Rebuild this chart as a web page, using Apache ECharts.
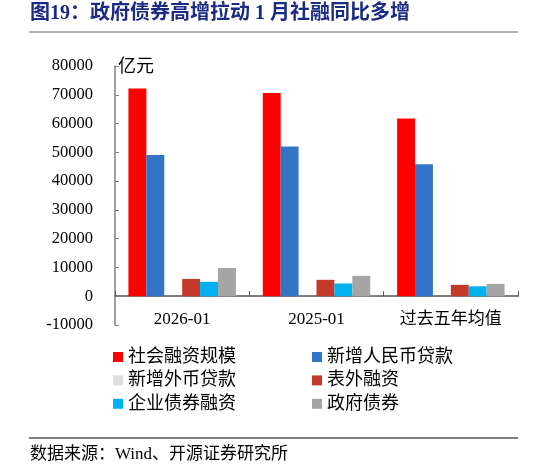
<!DOCTYPE html>
<html>
<head>
<meta charset="utf-8">
<script src="https://cdn.jsdelivr.net/npm/echarts@6/dist/echarts.min.js"></script>
<style>html,body{margin:0;padding:0;background:#fff;}#c{width:546px;height:468px;}</style>
</head>
<body>
<div id="c"></div>
<script>
const categories = ['2026-01', '2025-01', '过去五年均值'];
const seriesNames = ['社会融资规模', '新增人民币贷款', '新增外币贷款', '表外融资', '企业债券融资', '政府债券'];
const tsf = [72200, 70600, 61800];
const rmbLoans = [49100, 52000, 45900];
const fxLoans = [0, 0, 0];
const offBalance = [6000, 5700, 3950];
const corpBonds = [5000, 4400, 3450];
const govBonds = [9800, 7100, 4300];
const yTicks = { min: -10000, max: 80000, interval: 10000 };
const colors = ['#FF0000', '#3274C6', '#DDDDDD', '#C5392B', '#00B0F0', '#A5A5A5'];

const chart = echarts.init(document.getElementById('c'));
const values = [tsf, rmbLoans, fxLoans, offBalance, corpBonds, govBonds];
const serif = 'Liberation Serif, Noto Sans CJK SC';
const cjk = 'Liberation Serif, Noto Sans CJK SC';

chart.setOption({
  animation: false,
  color: colors,
  grid: { left: 115, right: 28, top: 66, bottom: 143, containLabel: false },
  xAxis: {
    type: 'category',
    data: categories,
    axisLine: { onZero: true, lineStyle: { color: '#555', width: 1.5 } },
    axisTick: { show: true, inside: true, length: 5, alignWithLabel: false, lineStyle: { color: '#555' } },
    axisLabel: { margin: -14, color: '#000', fontSize: 17, fontFamily: cjk },
    splitLine: { show: false }
  },
  yAxis: {
    type: 'value',
    min: yTicks.min, max: yTicks.max, interval: yTicks.interval,
    axisLine: { show: true, lineStyle: { color: '#808080', width: 1.5 } },
    axisTick: { show: true, inside: true, length: 4, lineStyle: { color: '#808080' } },
    axisLabel: { margin: 22, color: '#000', fontSize: 16.5, fontFamily: serif, formatter: v => String(v) },
    splitLine: { show: false }
  },
  legend: [
    {
      data: [seriesNames[0], seriesNames[2], seriesNames[4]],
      orient: 'vertical', left: 113, top: 348, padding: 0,
      icon: 'rect', itemWidth: 10, itemHeight: 10, itemGap: 5.4,
      textStyle: { fontSize: 18, color: '#000', fontFamily: cjk, lineHeight: 18 }
    },
    {
      data: [seriesNames[1], seriesNames[3], seriesNames[5]],
      orient: 'vertical', left: 312, top: 348, padding: 0,
      icon: 'rect', itemWidth: 10, itemHeight: 10, itemGap: 5.4,
      textStyle: { fontSize: 18, color: '#000', fontFamily: cjk, lineHeight: 18 }
    }
  ],
  graphic: [
    { type: 'text', left: 30, top: 4, style: { text: '图19：政府债券高增拉动 1 月社融同比多增', fill: '#1B2A84', font: 'bold 20px Liberation Serif, Noto Sans CJK SC' } },
    { type: 'line', shape: { x1: 29, y1: 32, x2: 518, y2: 32 }, style: { stroke: '#666', lineWidth: 1 } },
    { type: 'text', left: 118, top: 56, style: { text: '亿元', fill: '#000', font: '18px Noto Sans CJK SC' } },
    { type: 'line', shape: { x1: 29, y1: 438, x2: 518, y2: 438 }, style: { stroke: '#000', lineWidth: 1 } },
    { type: 'text', left: 30, top: 446, style: { text: '数据来源：Wind、开源证券研究所', fill: '#000', font: '17px Liberation Serif, Noto Sans CJK SC' } }
  ],
  series: seriesNames.map((n, i) => ({
    name: n, type: 'bar', data: values[i],
    barGap: '0%', barCategoryGap: '20%'
  }))
});
</script>
</body>
</html>
